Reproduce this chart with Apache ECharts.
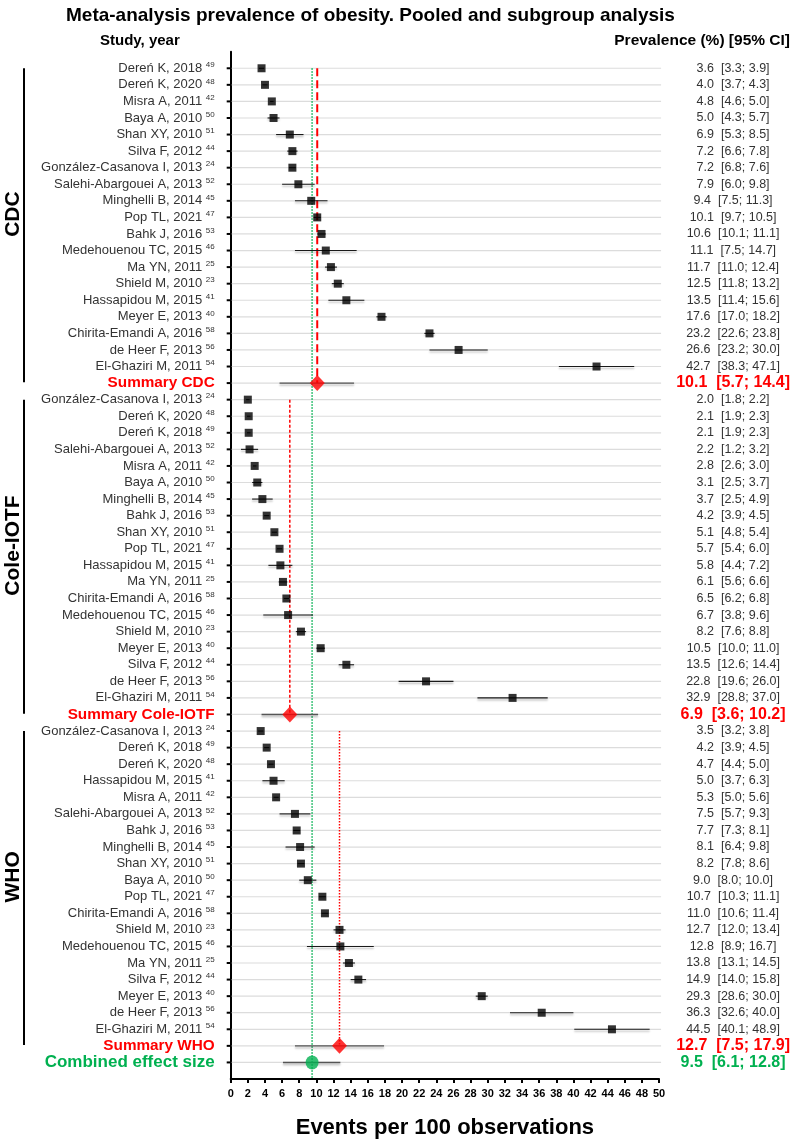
<!DOCTYPE html>
<html>
<head>
<meta charset="utf-8">
<script src="https://cdn.jsdelivr.net/npm/echarts@6/dist/echarts.min.js"></script>
<style>
html,body{margin:0;padding:0;background:#fff;}
#chart{width:793px;height:1144px;}
</style>
</head>
<body>
<div id="chart"></div>
<script>
// ---------------- DATA ----------------
const cdcNames = ['Dereń K, 2018','Dereń K, 2020','Misra A, 2011','Baya A, 2010','Shan XY, 2010','Silva F, 2012','González-Casanova I, 2013','Salehi-Abargouei A, 2013','Minghelli B, 2014','Pop TL, 2021','Bahk J, 2016','Medehouenou TC, 2015','Ma YN, 2011','Shield M, 2010','Hassapidou M, 2015','Meyer E, 2013','Chirita-Emandi A, 2016','de Heer F, 2013','El-Ghaziri M, 2011'];
const cdcRefs = [49,48,42,50,51,44,24,52,45,47,53,46,25,23,41,40,58,56,54];
const cdcEst  = [3.6,4.0,4.8,5.0,6.9,7.2,7.2,7.9,9.4,10.1,10.6,11.1,11.7,12.5,13.5,17.6,23.2,26.6,42.7];
const cdcLow  = [3.3,3.7,4.6,4.3,5.3,6.6,6.8,6.0,7.5,9.7,10.1,7.5,11.0,11.8,11.4,17.0,22.6,23.2,38.3];
const cdcHigh = [3.9,4.3,5.0,5.7,8.5,7.8,7.6,9.8,11.3,10.5,11.1,14.7,12.4,13.2,15.6,18.2,23.8,30.0,47.1];

const coleNames = ['González-Casanova I, 2013','Dereń K, 2020','Dereń K, 2018','Salehi-Abargouei A, 2013','Misra A, 2011','Baya A, 2010','Minghelli B, 2014','Bahk J, 2016','Shan XY, 2010','Pop TL, 2021','Hassapidou M, 2015','Ma YN, 2011','Chirita-Emandi A, 2016','Medehouenou TC, 2015','Shield M, 2010','Meyer E, 2013','Silva F, 2012','de Heer F, 2013','El-Ghaziri M, 2011'];
const coleRefs = [24,48,49,52,42,50,45,53,51,47,41,25,58,46,23,40,44,56,54];
const coleEst  = [2.0,2.1,2.1,2.2,2.8,3.1,3.7,4.2,5.1,5.7,5.8,6.1,6.5,6.7,8.2,10.5,13.5,22.8,32.9];
const coleLow  = [1.8,1.9,1.9,1.2,2.6,2.5,2.5,3.9,4.8,5.4,4.4,5.6,6.2,3.8,7.6,10.0,12.6,19.6,28.8];
const coleHigh = [2.2,2.3,2.3,3.2,3.0,3.7,4.9,4.5,5.4,6.0,7.2,6.6,6.8,9.6,8.8,11.0,14.4,26.0,37.0];

const whoNames = ['González-Casanova I, 2013','Dereń K, 2018','Dereń K, 2020','Hassapidou M, 2015','Misra A, 2011','Salehi-Abargouei A, 2013','Bahk J, 2016','Minghelli B, 2014','Shan XY, 2010','Baya A, 2010','Pop TL, 2021','Chirita-Emandi A, 2016','Shield M, 2010','Medehouenou TC, 2015','Ma YN, 2011','Silva F, 2012','Meyer E, 2013','de Heer F, 2013','El-Ghaziri M, 2011'];
const whoRefs = [24,49,48,41,42,52,53,45,51,50,47,58,23,46,25,44,40,56,54];
const whoEst  = [3.5,4.2,4.7,5.0,5.3,7.5,7.7,8.1,8.2,9.0,10.7,11.0,12.7,12.8,13.8,14.9,29.3,36.3,44.5];
const whoLow  = [3.2,3.9,4.4,3.7,5.0,5.7,7.3,6.4,7.8,8.0,10.3,10.6,12.0,8.9,13.1,14.0,28.6,32.6,40.1];
const whoHigh = [3.8,4.5,5.0,6.3,5.6,9.3,8.1,9.8,8.6,10.0,11.1,11.4,13.4,16.7,14.5,15.8,30.0,40.0,48.9];

const groupNames   = ['CDC','Cole-IOTF','WHO'];
const summaryNames = ['Summary CDC','Summary Cole-IOTF','Summary WHO'];
const summaryEst   = [10.1,6.9,12.7];
const summaryLow   = [5.7,3.6,7.5];
const summaryHigh  = [14.4,10.2,17.9];

const combinedName = 'Combined effect size';
const combinedEst  = 9.5;
const combinedLow  = 6.1;
const combinedHigh = 12.8;

const titleText  = 'Meta-analysis prevalence of obesity. Pooled and subgroup analysis';
const leftHeader = 'Study, year';
const rightHeader = 'Prevalence (%) [95% CI]';
const xAxisTitle = 'Events per 100 observations';
const xMin = 0, xMax = 50, xStep = 2;

// ---------------- BUILD ROWS ----------------
const groups = [
  {names: cdcNames, refs: cdcRefs, est: cdcEst, low: cdcLow, high: cdcHigh},
  {names: coleNames, refs: coleRefs, est: coleEst, low: coleLow, high: coleHigh},
  {names: whoNames, refs: whoRefs, est: whoEst, low: whoLow, high: whoHigh}
];
const rows = [];
const groupRange = [];
groups.forEach((g, gi) => {
  const first = rows.length;
  g.names.forEach((n, i) => rows.push({kind: 'study', name: n, ref: g.refs[i], est: g.est[i], low: g.low[i], high: g.high[i], g: gi}));
  rows.push({kind: 'summary', name: summaryNames[gi], est: summaryEst[gi], low: summaryLow[gi], high: summaryHigh[gi], g: gi});
  groupRange.push([first, rows.length - 1]);
});
rows.push({kind: 'combined', name: combinedName, est: combinedEst, low: combinedLow, high: combinedHigh});
const nRows = rows.length;
const yMin = -1, yMax = nRows;

const f1 = v => v.toFixed(1);

const studyPts = [], summaryPts = [], ciData = [], gridRows = [];
rows.forEach((r, i) => {
  gridRows.push([i]);
  ciData.push([r.low, r.high, i, r.kind]);
  if (r.kind === 'study') studyPts.push([r.est, i]);
  else if (r.kind === 'summary') summaryPts.push([r.est, i]);
});
const combinedPts = [[combinedEst, nRows - 1]];

const FONT = "'Liberation Sans', Arial, Helvetica, sans-serif";
const RED = '#ff0000', GREEN = '#00b050';

const leftLabel = v => {
  const r = rows[v];
  if (!r || v !== Math.round(v)) return '';
  if (r.kind === 'study') return '{n|' + r.name + '} {s|' + r.ref + '}';
  if (r.kind === 'summary') return '{sm|' + r.name + '}';
  return '{cb|' + r.name + '}';
};
const rightLabel = v => {
  const r = rows[v];
  if (!r || v !== Math.round(v)) return '';
  const t = f1(r.est) + '  [' + f1(r.low) + '; ' + f1(r.high) + ']';
  if (r.kind === 'study') return '{v|' + t + '}';
  if (r.kind === 'summary') return '{vs|' + t + '}';
  return '{vc|' + t + '}';
};

const chart = echarts.init(document.getElementById('chart'), null, {renderer: 'canvas'});

const refLines = [
  {x: summaryEst[0], from: groupRange[0][0], to: groupRange[0][1], type: [8, 4], w: 2, color: RED},
  {x: summaryEst[1], from: groupRange[1][0], to: groupRange[1][1], type: [3, 2], w: 1.5, color: RED},
  {x: summaryEst[2], from: groupRange[2][0], to: groupRange[2][1], type: [1.5, 1.5], w: 1.5, color: RED},
  {x: combinedEst, from: 0, to: yMax, type: [1.5, 1.5], w: 1.5, color: GREEN}
];

const option = {
  backgroundColor: '#fff',
  animation: false,
  title: {
    text: titleText, left: 61, top: 1,
    textStyle: {fontFamily: FONT, fontWeight: 'bold', fontSize: 19, color: '#000'}
  },
  grid: {left: 230.7, right: 133, top: 51.7, bottom: 62.3, containLabel: false},
  xAxis: {
    type: 'value', min: xMin, max: xMax, interval: xStep,
    axisLine: {show: true, onZero: false, lineStyle: {color: '#000', width: 2}},
    axisTick: {show: true, length: 4, lineStyle: {color: '#000', width: 2}},
    axisLabel: {margin: 9, fontFamily: FONT, fontWeight: 'bold', fontSize: 11, color: '#000'},
    splitLine: {show: false},
    name: xAxisTitle, nameLocation: 'middle', nameGap: 38,
    nameTextStyle: {fontFamily: FONT, fontWeight: 'bold', fontSize: 22, color: '#000'}
  },
  yAxis: [{
    type: 'value', inverse: true, min: yMin, max: yMax, interval: 1,
    axisLine: {show: true, onZero: false, lineStyle: {color: '#000', width: 2}},
    axisTick: {show: false},
    splitLine: {show: false},
    axisLabel: {
      margin: 16, formatter: leftLabel, fontFamily: FONT, fontSize: 13, color: '#333',
      rich: {
        n: {fontFamily: FONT, fontSize: 13, color: '#333', lineHeight: 15},
        s: {fontFamily: FONT, fontSize: 8, color: '#333', verticalAlign: 'top', lineHeight: 15, padding: [0, 0, 5, 0]},
        sm: {fontFamily: FONT, fontSize: 15.3, fontWeight: 'bold', color: RED},
        cb: {fontFamily: FONT, fontSize: 17, fontWeight: 'bold', color: GREEN}
      }
    }
  }, {
    type: 'value', inverse: true, min: yMin, max: yMax, interval: 1, position: 'right',
    axisLine: {show: false, onZero: false}, axisTick: {show: false}, splitLine: {show: false},
    axisLabel: {
      margin: 74, align: 'center', formatter: rightLabel, fontFamily: FONT, fontSize: 12.5, color: '#333',
      rich: {
        v: {fontFamily: FONT, fontSize: 12.5, color: '#333'},
        vs: {fontFamily: FONT, fontSize: 16, fontWeight: 'bold', color: RED},
        vc: {fontFamily: FONT, fontSize: 16, fontWeight: 'bold', color: GREEN}
      }
    }
  }],
  series: [
    {
      type: 'custom', z: 1, silent: true, clip: false,
      data: gridRows, encode: {y: 0},
      renderItem: (params, api) => {
        const i = api.value(0);
        const a = api.coord([xMin, i]);
        const b = api.coord([xMax, i]);
        return {type: 'group', children: [
          {type: 'line', shape: {x1: a[0] + 1, y1: a[1], x2: b[0] + 2, y2: b[1]}, style: {stroke: '#dcdcdc', lineWidth: 1.2}},
          {type: 'line', shape: {x1: a[0] - 4, y1: a[1], x2: a[0], y2: a[1]}, style: {stroke: '#000', lineWidth: 2}}
        ]};
      }
    },
    ...refLines.map(l => ({
      type: 'line', z: 3, silent: true, symbol: 'none',
      data: [[l.x, l.from], [l.x, l.to]],
      lineStyle: {color: l.color, width: l.w, type: l.type}
    })),
    {
      type: 'custom', z: 4, silent: true,
      data: ciData, encode: {x: [0, 1], y: 2},
      renderItem: (params, api) => {
        const a = api.coord([api.value(0), api.value(2)]);
        const b = api.coord([api.value(1), api.value(2)]);
        const kind = ciData[params.dataIndex][3];
        return {type: 'line', shape: {x1: a[0], y1: a[1], x2: b[0], y2: b[1]},
          style: {stroke: kind === 'study' ? '#1a1a1a' : '#555', lineWidth: kind === 'study' ? 1.1 : 1.4,
            shadowColor: 'rgba(0,0,0,0.3)', shadowBlur: 2, shadowOffsetY: 2}};
      }
    },
    {type: 'scatter', z: 5, data: studyPts, symbol: 'rect', symbolSize: 8, itemStyle: {color: '#000'}, silent: true},
    {type: 'scatter', z: 6, data: summaryPts, symbol: 'diamond', symbolSize: [15, 16], itemStyle: {color: RED}, silent: true},
    {type: 'scatter', z: 6, data: combinedPts, symbol: 'circle', symbolSize: [13, 14], itemStyle: {color: GREEN}, silent: true}
  ]
};
chart.setOption(option);

const yPix = r => chart.convertToPixel({yAxisIndex: 0}, r);
const graphics = [];
groupRange.forEach((gr, gi) => {
  const y1 = yPix(gr[0]), y2 = yPix(gr[1] - 0.05);
  graphics.push({type: 'line', shape: {x1: 24, y1: y1, x2: 24, y2: y2}, style: {stroke: '#000', lineWidth: 2}});
  const yc = yPix((gr[0] + gr[1]) / 2 - 0.7);
  graphics.push({type: 'text', x: 13, y: yc, rotation: Math.PI / 2,
    style: {text: groupNames[gi], fontFamily: FONT, fontWeight: 'bold', fontSize: 21, fill: '#000', align: 'center', verticalAlign: 'middle'}});
});
graphics.push({type: 'text', x: 100, y: 41, style: {text: leftHeader, fontFamily: FONT, fontWeight: 'bold', fontSize: 15, fill: '#000', align: 'left', verticalAlign: 'middle'}});
graphics.push({type: 'text', x: 790, y: 41, style: {text: rightHeader, fontFamily: FONT, fontWeight: 'bold', fontSize: 15.5, fill: '#000', align: 'right', verticalAlign: 'middle'}});
chart.setOption({graphic: graphics});
</script>
</body>
</html>
